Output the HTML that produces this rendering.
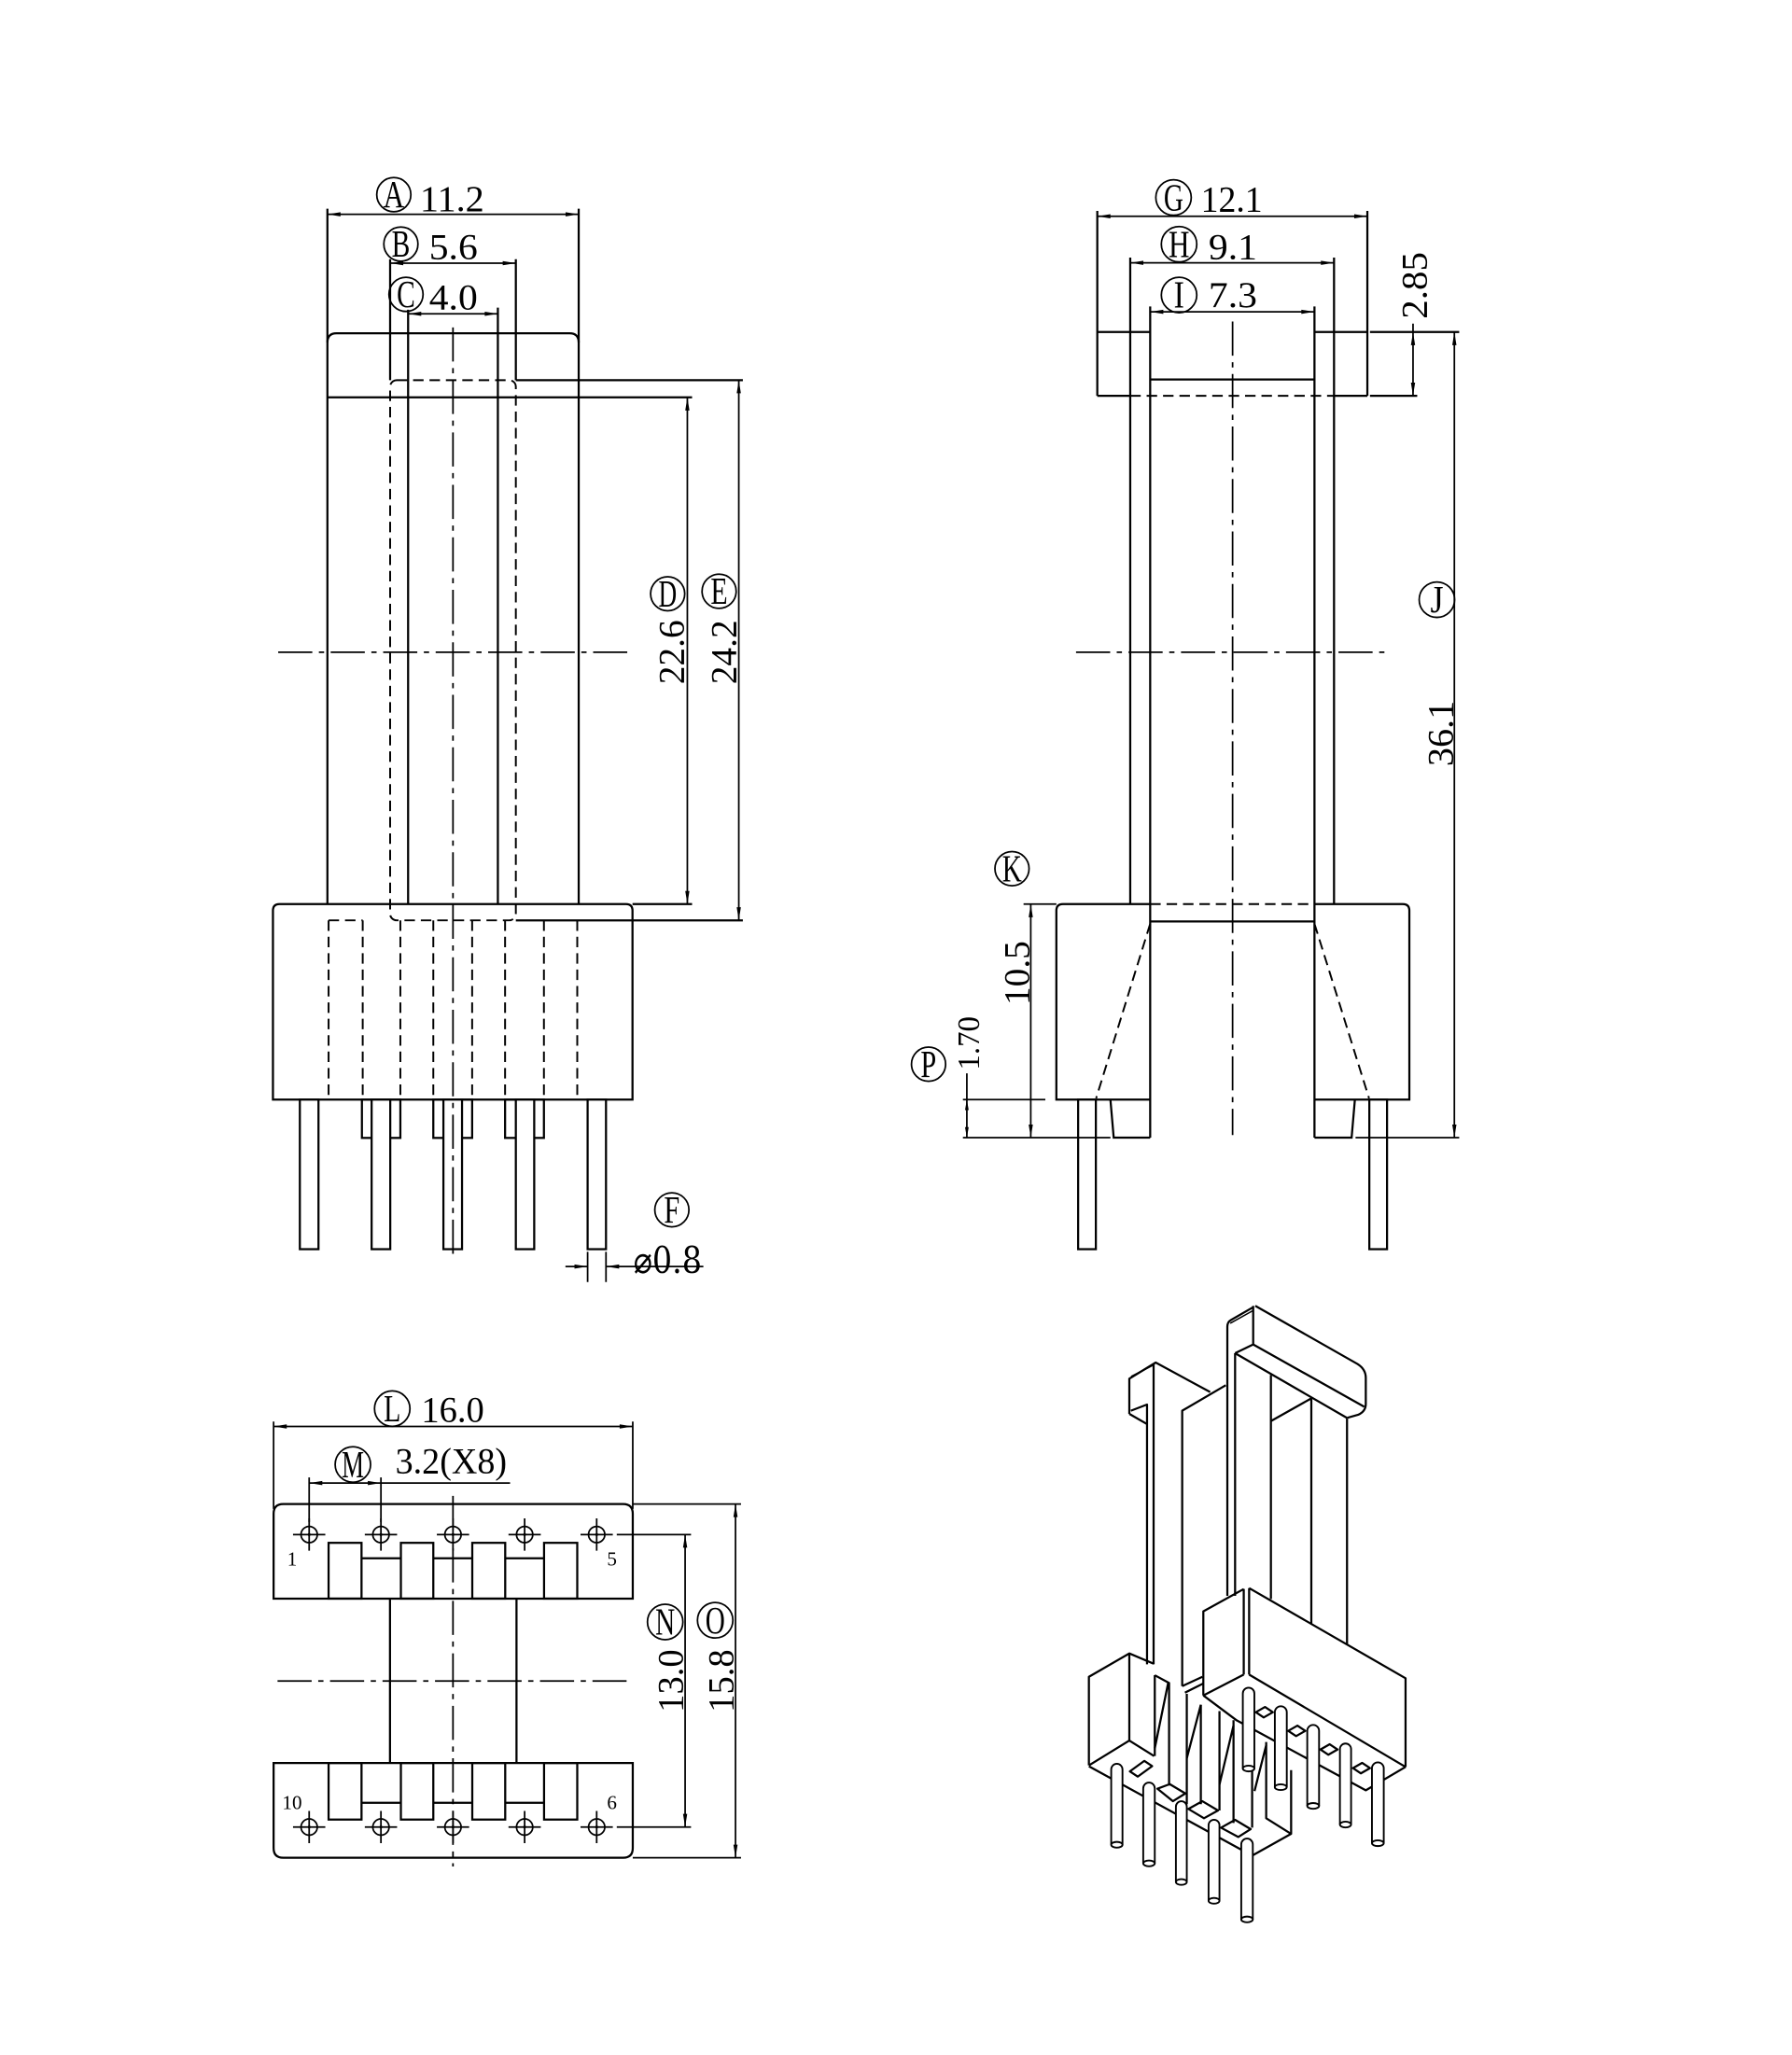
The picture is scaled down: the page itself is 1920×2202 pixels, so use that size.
<!DOCTYPE html>
<html><head><meta charset="utf-8">
<style>html,body{margin:0;padding:0;background:#fff;}svg{display:block;}</style>
</head>
<body>
<svg xmlns="http://www.w3.org/2000/svg" width="1920" height="2202" viewBox="0 0 1365.6 1566.1">
<rect width="1365.6" height="1566.1" fill="#fff"/>

<!-- ================= TOP-LEFT VIEW ================= -->
<g fill="none" stroke="#000" stroke-width="1.6">
  <path d="M249.5,159 V689"/>
  <path d="M441,159 V689"/>
  <path d="M249.5,261 Q249.5,254 256.5,254 H434 Q441,254 441,261"/>
  <path d="M249.5,302.8 H527.4"/>
  <path d="M311,236 V689"/>
  <path d="M379.4,234.4 V689"/>
  <path d="M297.3,197.5 V289.7"/>
  <path d="M393.1,197.5 V289.7"/>
  <path d="M393.1,289.7 H566.1"/>
  <path d="M208,838 V694 Q208,689 213,689 H477 Q482,689 482,694 V838 Z"/>
  <path d="M482,689 H527.4"/>
  <path d="M393.1,701.4 H566.1"/>
  <rect x="275.8" y="838" width="29.3" height="29.2"/>
  <rect x="330.2" y="838" width="29.6" height="29.2"/>
  <rect x="384.9" y="838" width="29.6" height="29.2"/>
  <rect x="228.5" y="838" width="14.2" height="114" fill="#fff"/>
  <rect x="283.2" y="838" width="14.2" height="114" fill="#fff"/>
  <rect x="337.9" y="838" width="14.2" height="114" fill="#fff"/>
  <rect x="393.1" y="838" width="14.0" height="114" fill="#fff"/>
  <rect x="447.8" y="838" width="14.0" height="114" fill="#fff"/>
</g>
<g fill="none" stroke="#000" stroke-width="1.4" stroke-dasharray="8 4.5">
  <rect x="297.3" y="289.7" width="95.8" height="411.7" rx="5"/>
  <path d="M250.4,701.4 V838 M276.4,701.4 V838 M305.1,701.4 V838 M330.2,701.4 V838 M359.8,701.4 V838 M384.9,701.4 V838 M414.5,701.4 V838 M439.9,701.4 V838"/>
  <path d="M250.4,701.4 H276.4"/>
</g>
<g fill="none" stroke="#000" stroke-width="1.25" stroke-dasharray="26 5 4 5">
  <path d="M345.2,249.5 V958"/>
  <path d="M212,497 H479"/>
</g>
<g fill="none" stroke="#000" stroke-width="1.25">
  <path d="M249.5,163.3 H441"/>
  <path d="M297.3,200.5 H393.1"/>
  <path d="M311,239.1 H379.4"/>
  <path d="M523.8,302.8 V689"/>
  <path d="M563,289.7 V701.4"/>
  <path d="M447.8,954 V977 M461.8,954 V977"/>
  <path d="M430.9,965.2 H447.8 M461.8,965.2 H536"/>
</g>
<g fill="#000" stroke="none">
  <polygon points="249.5,163.3 259.5,161.7 259.5,164.9"/>
  <polygon points="441,163.3 431,161.7 431,164.9"/>
  <polygon points="297.3,200.5 307.3,198.9 307.3,202.1"/>
  <polygon points="393.1,200.5 383.1,198.9 383.1,202.1"/>
  <polygon points="311,239.1 321,237.5 321,240.7"/>
  <polygon points="379.4,239.1 369.4,237.5 369.4,240.7"/>
  <polygon points="523.8,302.8 522.2,312.8 525.4,312.8"/>
  <polygon points="523.8,689 522.2,679 525.4,679"/>
  <polygon points="563,289.7 561.4,299.7 564.6,299.7"/>
  <polygon points="563,701.4 561.4,691.4 564.6,691.4"/>
  <polygon points="447.8,965.2 437.8,963.6 437.8,966.8"/>
  <polygon points="461.8,965.2 471.8,963.6 471.8,966.8"/>
</g>

<!-- ================= TOP-RIGHT VIEW ================= -->
<g fill="none" stroke="#000" stroke-width="1.6">
  <path d="M836.2,160.7 V301.6"/>
  <path d="M1042,160.7 V301.6"/>
  <path d="M836.2,253 H876.5 M1001.7,253 H1042"/>
  <path d="M836.2,301.6 H861.3 M1016.6,301.6 H1042"/>
  <path d="M861.3,196.3 V689 M1016.6,196.3 V689"/>
  <path d="M876.5,233.5 V867 M1001.7,233.5 V867"/>
  <path d="M876.5,289.2 H1001.7"/>
  <path d="M1044,253 H1112 M1044,301.6 H1080"/>
  <path d="M876.5,689 H810 Q805,689 805,694 V838 H876.5"/>
  <path d="M1001.7,689 H1069 Q1074,689 1074,694 V838 H1001.7"/>
  <path d="M876.5,702.2 H1001.7"/>
  <path d="M846.2,838 L848.7,867 H876.5"/>
  <path d="M1032.5,838 L1030,867 H1001.7"/>
  <rect x="821.6" y="838" width="13.5" height="114" fill="#fff"/>
  <rect x="1043.5" y="838" width="13.5" height="114" fill="#fff"/>
</g>
<g fill="none" stroke="#000" stroke-width="1.25">
  <path d="M780,689 H805"/>
  <path d="M733.8,838 H796.6"/>
  <path d="M733.8,867 H846.2"/>
  <path d="M1033,867 H1112"/>
  <path d="M836.2,164.8 H1042"/>
  <path d="M861.3,200.3 H1016.6"/>
  <path d="M876.5,237.6 H1001.7"/>
  <path d="M1076.8,246.6 V301.6"/>
  <path d="M1108.3,253 V867"/>
  <path d="M785.5,689 V867"/>
  <path d="M736.8,818 V867"/>
</g>
<g fill="none" stroke="#000" stroke-width="1.4" stroke-dasharray="8 4.5">
  <path d="M876.5,689 H1001.7"/>
  <path d="M861.3,301.6 H1016.6"/>
  <path d="M876.5,704 L835.3,837"/>
  <path d="M1001.7,704 L1043.3,837"/>
</g>
<g fill="none" stroke="#000" stroke-width="1.25" stroke-dasharray="26 5 4 5">
  <path d="M939.3,245 V865"/>
  <path d="M820,497 H1058"/>
</g>
<g fill="#000" stroke="none">
  <polygon points="836.2,164.8 846.2,163.2 846.2,166.4"/>
  <polygon points="1042,164.8 1032,163.2 1032,166.4"/>
  <polygon points="861.3,200.3 871.3,198.7 871.3,201.9"/>
  <polygon points="1016.6,200.3 1006.6,198.7 1006.6,201.9"/>
  <polygon points="876.5,237.6 886.5,236 886.5,239.2"/>
  <polygon points="1001.7,237.6 991.7,236 991.7,239.2"/>
  <polygon points="1076.8,253 1075.2,263 1078.4,263"/>
  <polygon points="1076.8,301.6 1075.2,291.6 1078.4,291.6"/>
  <polygon points="1108.3,253 1106.7,263 1109.9,263"/>
  <polygon points="1108.3,867 1106.7,857 1109.9,857"/>
  <polygon points="785.5,689 783.9,699 787.1,699"/>
  <polygon points="785.5,867 783.9,857 787.1,857"/>
  <polygon points="736.8,838 735.4,846 738.2,846"/>
  <polygon points="736.8,867 735.4,859 738.2,859"/>
</g>

<!-- ================= BOTTOM-LEFT VIEW ================= -->
<g fill="none" stroke="#000" stroke-width="1.6">
  <path d="M208.5,1218.3 V1153.6 Q208.5,1146.2 215.9,1146.2 H474.8 Q482.2,1146.2 482.2,1153.6 V1218.3 Z"/>
  <rect x="250.4" y="1175.8" width="25.1" height="42.5"/>
  <rect x="305.5" y="1175.8" width="24.7" height="42.5"/>
  <rect x="359.9" y="1175.8" width="25.1" height="42.5"/>
  <rect x="414.6" y="1175.8" width="25.3" height="42.5"/>
  <path d="M275.5,1187.6 H305.5 M330.2,1187.6 H359.9 M385,1187.6 H414.6"/>
  <path d="M297.2,1218.3 V1343.6 M393.6,1218.3 V1343.6"/>
  <path d="M208.5,1343.6 V1408.4 Q208.5,1415.8 215.9,1415.8 H474.8 Q482.2,1415.8 482.2,1408.4 V1343.6 Z"/>
  <rect x="250.4" y="1343.6" width="25.1" height="43.1"/>
  <rect x="305.5" y="1343.6" width="24.7" height="43.1"/>
  <rect x="359.9" y="1343.6" width="25.1" height="43.1"/>
  <rect x="414.6" y="1343.6" width="25.3" height="43.1"/>
  <path d="M275.5,1373.9 H305.5 M330.2,1373.9 H359.9 M385,1373.9 H414.6"/>
</g>
<g fill="none" stroke="#000" stroke-width="1.25">
  <path d="M208.5,1083.4 V1150 M482.2,1083.4 V1150"/>
  <path d="M208.5,1087.1 H482.2"/>
  <path d="M235.6,1126 V1160 M290.3,1126 V1160"/>
  <path d="M235.6,1130.2 H388.7"/>
  <path d="M470,1169.5 H526.6 M470,1392.4 H526.6"/>
  <path d="M482.2,1146.2 H564.7 M482.2,1415.8 H564.7"/>
  <path d="M522.1,1169.5 V1392.4"/>
  <path d="M560.5,1146.2 V1415.8"/>
  <circle cx="235.6" cy="1169.5" r="6.2"/><path d="M223.3,1169.5 H247.9 M235.6,1157.2 V1181.8"/>
  <circle cx="290.3" cy="1169.5" r="6.2"/><path d="M278,1169.5 H302.6 M290.3,1157.2 V1181.8"/>
  <circle cx="345.2" cy="1169.5" r="6.2"/><path d="M332.9,1169.5 H357.5 M345.2,1157.2 V1181.8"/>
  <circle cx="399.8" cy="1169.5" r="6.2"/><path d="M387.5,1169.5 H412.1 M399.8,1157.2 V1181.8"/>
  <circle cx="454.7" cy="1169.5" r="6.2"/><path d="M442.4,1169.5 H467 M454.7,1157.2 V1181.8"/>
  <circle cx="235.6" cy="1392.4" r="6.2"/><path d="M223.3,1392.4 H247.9 M235.6,1380.1 V1404.7"/>
  <circle cx="290.3" cy="1392.4" r="6.2"/><path d="M278,1392.4 H302.6 M290.3,1380.1 V1404.7"/>
  <circle cx="345.2" cy="1392.4" r="6.2"/><path d="M332.9,1392.4 H357.5 M345.2,1380.1 V1404.7"/>
  <circle cx="399.8" cy="1392.4" r="6.2"/><path d="M387.5,1392.4 H412.1 M399.8,1380.1 V1404.7"/>
  <circle cx="454.7" cy="1392.4" r="6.2"/><path d="M442.4,1392.4 H467 M454.7,1380.1 V1404.7"/>
</g>
<g fill="#000" stroke="none">
  <circle cx="235.6" cy="1169.5" r="1.1"/><circle cx="290.3" cy="1169.5" r="1.1"/><circle cx="345.2" cy="1169.5" r="1.1"/><circle cx="399.8" cy="1169.5" r="1.1"/><circle cx="454.7" cy="1169.5" r="1.1"/>
  <circle cx="235.6" cy="1392.4" r="1.1"/><circle cx="290.3" cy="1392.4" r="1.1"/><circle cx="345.2" cy="1392.4" r="1.1"/><circle cx="399.8" cy="1392.4" r="1.1"/><circle cx="454.7" cy="1392.4" r="1.1"/>
  <polygon points="208.5,1087.1 218.5,1085.5 218.5,1088.7"/>
  <polygon points="482.2,1087.1 472.2,1085.5 472.2,1088.7"/>
  <polygon points="235.6,1130.2 245.6,1128.6 245.6,1131.8"/>
  <polygon points="290.3,1130.2 280.3,1128.6 280.3,1131.8"/>
  <polygon points="522.1,1169.5 520.5,1179.5 523.7,1179.5"/>
  <polygon points="522.1,1392.4 520.5,1382.4 523.7,1382.4"/>
  <polygon points="560.5,1146.2 558.9,1156.2 562.1,1156.2"/>
  <polygon points="560.5,1415.8 558.9,1405.8 562.1,1405.8"/>
</g>
<g fill="none" stroke="#000" stroke-width="1.25" stroke-dasharray="26 5 4 5">
  <path d="M345.2,1140 V1422.5"/>
  <path d="M211.5,1281.1 H478.6"/>
</g>

<!-- ================= 3D VIEW ================= -->
<g fill="none" stroke="#000" stroke-width="1.6" stroke-linejoin="round">
  <path d="M955,995.2 V1024.6"/>
  <path d="M956.6,995.2 L1034.5,1039.5 Q1040.8,1043.5 1040.8,1050 V1070 Q1040.8,1075.5 1035,1078.2 L1026.5,1080.6"/>
  <path d="M955,1024.6 L1039.6,1072.1"/>
  <path d="M941.2,1031.3 L1026.5,1080.6"/>
  <path d="M941.2,1031.3 L955,1024.6"/>
  <path d="M935.3,1216.2 V1011 Q935.3,1007.5 938,1006 L955,996.2"/>
  <path d="M937.5,1008.5 L954.5,999" stroke-width="1.1"/>
  <path d="M941.2,1031.3 V1216.2"/>
  <path d="M968.5,1047.9 V1218.6"/>
  <path d="M999.3,1065.7 V1237.6"/>
  <path d="M1026.5,1081.1 V1253"/>
  <path d="M968.5,1083 L999.3,1065.7"/>
  <path d="M860.6,1077.5 V1050.7 L880.7,1038.4 L922.2,1060.9"/>
  <path d="M862,1049 L879.5,1040" stroke-width="1.1"/>
  <path d="M879.1,1039.6 V1268.4"/>
  <path d="M860.6,1077.5 L874.1,1085.3"/>
  <path d="M861.8,1075.1 L874.1,1070.4 V1268.4"/>
  <path d="M900.9,1285 V1075.1 L934.1,1055.7"/>
  <path d="M917,1292.1 V1228 L947.8,1211"/>
  <path d="M947.8,1211 V1276.2"/>
  <path d="M951.9,1210.3 V1276.2"/>
  <path d="M951.9,1210.3 L1071.1,1279 V1346.6"/>
  <path d="M917,1292.1 L947.8,1276.2"/>
  <path d="M951.9,1276.2 L1071.1,1346.6"/>
  <path d="M917,1292.1 L942.4,1311.1 L1040.8,1364.4 L1071.1,1346.6"/>
  <path d="M957,1304.9 L964,1300.9 L970,1304.9 L963,1308.9 Z"/>
  <path d="M981.7,1319.1 L988.7,1315.1 L994.7,1319.1 L987.7,1323.1 Z"/>
  <path d="M1006.3,1333.3 L1013.3,1329.3 L1019.3,1333.3 L1012.3,1337.3 Z"/>
  <path d="M1031,1347.5 L1038,1343.5 L1044,1347.5 L1037,1351.5 Z"/>
  <path d="M829.8,1345.4 V1277.9 L860.6,1260.1 L879.1,1267.9"/>
  <path d="M860.6,1260.1 V1326.5"/>
  <path d="M829.8,1345.4 L860.6,1326.5 L879.5,1338.3"/>
  <path d="M829.8,1346.1 L954.2,1414.2 L983.9,1397.6 V1349"/>
  <path d="M880,1276.7 V1338.3"/>
  <path d="M880,1276.7 L890.9,1282.6 V1360.8"/>
  <path d="M880,1332.4 L890.2,1282.6"/>
  <path d="M900.9,1285 L916.3,1277.9"/>
  <path d="M903,1290 L917,1283"/>
  <path d="M904.4,1290.9 V1375"/>
  <path d="M915.1,1299.2 V1375"/>
  <path d="M929.3,1304 V1379.8"/>
  <path d="M940,1311 V1389.3"/>
  <path d="M964.9,1327.6 V1385.7 L983.9,1397.6"/>
  <path d="M954.2,1341.9 V1392.9"/>
  <path d="M915.1,1299.2 L904.4,1340"/>
  <path d="M940,1315 L929.3,1360"/>
  <path d="M964.9,1330 L956,1365"/>
  <path d="M861,1350 L872,1342 L878,1346 L867,1354 Z"/>
  <path d="M882,1363.2 L891.4,1359.7 L903.3,1366.8 L893.8,1372.7 Z"/>
  <path d="M905.6,1378.6 L916.3,1372.7 L928.2,1379.8 L917.5,1385.7 Z"/>
  <path d="M930.5,1392.9 L941.2,1386.9 L953.1,1394 L943.6,1400 Z"/>
</g>
<g fill="#fff" stroke="#000" stroke-width="1.35">
  <path d="M947.1,1347.8 V1290.6 A4.4,4.4 0 0 1 955.9,1290.6 V1347.8"/><ellipse cx="951.5" cy="1347.8" rx="4.4" ry="2.2"/>
  <path d="M971.5,1362 V1304.9 A4.55,4.55 0 0 1 980.6,1304.9 V1362"/><ellipse cx="976" cy="1362" rx="4.55" ry="2.2"/>
  <path d="M996.2,1376.3 V1319.1 A4.5,4.5 0 0 1 1005.2,1319.1 V1376.3"/><ellipse cx="1000.7" cy="1376.3" rx="4.5" ry="2.2"/>
  <path d="M1021.1,1390.5 V1333 A4.25,4.25 0 0 1 1029.6,1333 V1390.5"/><ellipse cx="1025.35" cy="1390.5" rx="4.25" ry="2.2"/>
  <path d="M1045.5,1404.7 V1347.6 A4.5,4.5 0 0 1 1054.5,1347.6 V1404.7"/><ellipse cx="1050" cy="1404.7" rx="4.5" ry="2.2"/>
  <path d="M846.8,1405.9 V1348.5 A4.3,4.3 0 0 1 855.4,1348.5 V1405.9"/><ellipse cx="851.1" cy="1405.9" rx="4.3" ry="2.2"/>
  <path d="M871.2,1420.1 V1362.9 A4.4,4.4 0 0 1 880,1362.9 V1420.1"/><ellipse cx="875.6" cy="1420.1" rx="4.4" ry="2.2"/>
  <path d="M896.1,1434.3 V1376.9 A4.15,4.15 0 0 1 904.4,1376.9 V1434.3"/><ellipse cx="900.25" cy="1434.3" rx="4.15" ry="2.2"/>
  <path d="M921,1448.6 V1391 A4.15,4.15 0 0 1 929.3,1391 V1448.6"/><ellipse cx="925.15" cy="1448.6" rx="4.15" ry="2.2"/>
  <path d="M945.9,1462.8 V1405.6 A4.4,4.4 0 0 1 954.7,1405.6 V1462.8"/><ellipse cx="950.3" cy="1462.8" rx="4.4" ry="2.2"/>
</g>

<!-- ================= LABEL CIRCLES ================= -->
<g fill="none" stroke="#000" stroke-width="1.25">
  <circle cx="300.1" cy="148.3" r="13"/>
  <circle cx="305.5" cy="186" r="13"/>
  <circle cx="309.4" cy="224.3" r="13"/>
  <circle cx="508.8" cy="452.5" r="13"/>
  <circle cx="548" cy="450.6" r="13"/>
  <circle cx="512" cy="922" r="13"/>
  <circle cx="894.3" cy="150.5" r="13.5"/>
  <circle cx="898.5" cy="186.1" r="13.5"/>
  <circle cx="898.5" cy="224.8" r="13.5"/>
  <circle cx="1095" cy="457" r="13.5"/>
  <circle cx="771.2" cy="662" r="13"/>
  <circle cx="707.6" cy="811" r="13"/>
  <circle cx="298.9" cy="1073.5" r="13.5"/>
  <circle cx="268.9" cy="1116.1" r="13.5"/>
  <circle cx="506.9" cy="1236.1" r="13.5"/>
  <circle cx="545" cy="1234.8" r="13.5"/>
</g>
<g fill="#000" stroke="none" font-family="'Liberation Serif', serif" font-size="29" text-anchor="middle">
  <text x="300.1" y="158" textLength="16" lengthAdjust="spacingAndGlyphs">A</text>
  <text x="305.5" y="195.7" textLength="14" lengthAdjust="spacingAndGlyphs">B</text>
  <text x="309.4" y="234" textLength="14" lengthAdjust="spacingAndGlyphs">C</text>
  <text x="508.8" y="462.2" textLength="14" lengthAdjust="spacingAndGlyphs">D</text>
  <text x="548" y="460.3" textLength="13" lengthAdjust="spacingAndGlyphs">E</text>
  <text x="512" y="931.7" textLength="12" lengthAdjust="spacingAndGlyphs">F</text>
  <text x="894.3" y="160.2" textLength="15" lengthAdjust="spacingAndGlyphs">G</text>
  <text x="898.5" y="195.8" textLength="16" lengthAdjust="spacingAndGlyphs">H</text>
  <text x="898.5" y="234.5" textLength="8" lengthAdjust="spacingAndGlyphs">I</text>
  <text x="1095" y="466.7" textLength="10" lengthAdjust="spacingAndGlyphs">J</text>
  <text x="771.2" y="671.7" textLength="15" lengthAdjust="spacingAndGlyphs">K</text>
  <text x="707.6" y="820.7" textLength="12" lengthAdjust="spacingAndGlyphs">P</text>
  <text x="298.9" y="1083.2" textLength="13" lengthAdjust="spacingAndGlyphs">L</text>
  <text x="268.9" y="1125.8" textLength="17" lengthAdjust="spacingAndGlyphs">M</text>
  <text x="506.9" y="1245.8" textLength="15" lengthAdjust="spacingAndGlyphs">N</text>
  <text x="545" y="1244.5" textLength="15" lengthAdjust="spacingAndGlyphs">O</text>
</g>

<!-- ================= DIMENSION TEXT ================= -->
<g fill="#000" stroke="none" font-family="'Liberation Serif', serif" font-size="28">
  <text x="320" y="160.6" textLength="49" lengthAdjust="spacingAndGlyphs">11.2</text>
  <text x="327" y="197.5" textLength="37" lengthAdjust="spacingAndGlyphs">5.6</text>
  <text x="327" y="235.8" textLength="37" lengthAdjust="spacingAndGlyphs">4.0</text>
  <text transform="translate(521,497) rotate(-90)" text-anchor="middle" textLength="49" lengthAdjust="spacingAndGlyphs">22.6</text>
  <text transform="translate(560.8,497) rotate(-90)" text-anchor="middle" textLength="49" lengthAdjust="spacingAndGlyphs">24.2</text>
  <text x="482.8" y="970" textLength="52" lengthAdjust="spacingAndGlyphs" font-family="'DejaVu Serif', 'Liberation Serif', serif">⌀0.8</text>

  <text x="915.1" y="161.2" textLength="47" lengthAdjust="spacingAndGlyphs">12.1</text>
  <text x="921" y="197.3" textLength="37" lengthAdjust="spacingAndGlyphs">9.1</text>
  <text x="921" y="234" textLength="37" lengthAdjust="spacingAndGlyphs">7.3</text>
  <text transform="translate(1087,217.5) rotate(-90)" text-anchor="middle" textLength="51" lengthAdjust="spacingAndGlyphs">2.85</text>
  <text transform="translate(1107,559) rotate(-90)" text-anchor="middle" textLength="50" lengthAdjust="spacingAndGlyphs">36.1</text>
  <text transform="translate(784,741.5) rotate(-90)" text-anchor="middle" textLength="49" lengthAdjust="spacingAndGlyphs">10.5</text>
  <text transform="translate(746,795) rotate(-90)" text-anchor="middle" textLength="41" lengthAdjust="spacingAndGlyphs" font-size="24">1.70</text>

  <text x="321" y="1083.4" textLength="48" lengthAdjust="spacingAndGlyphs">16.0</text>
  <text x="301.3" y="1122.8" textLength="85" lengthAdjust="spacingAndGlyphs">3.2(X8)</text>
  <text transform="translate(520.4,1281) rotate(-90)" text-anchor="middle" textLength="48" lengthAdjust="spacingAndGlyphs">13.0</text>
  <text transform="translate(558.6,1281) rotate(-90)" text-anchor="middle" textLength="48" lengthAdjust="spacingAndGlyphs">15.8</text>
</g>
<g fill="#000" stroke="none" font-family="'Liberation Serif', serif" font-size="15" text-anchor="middle">
  <text x="222.6" y="1193">1</text>
  <text x="466.3" y="1193">5</text>
  <text x="222.6" y="1378.8">10</text>
  <text x="466.3" y="1378.8">6</text>
</g>
</svg>
</body></html>
